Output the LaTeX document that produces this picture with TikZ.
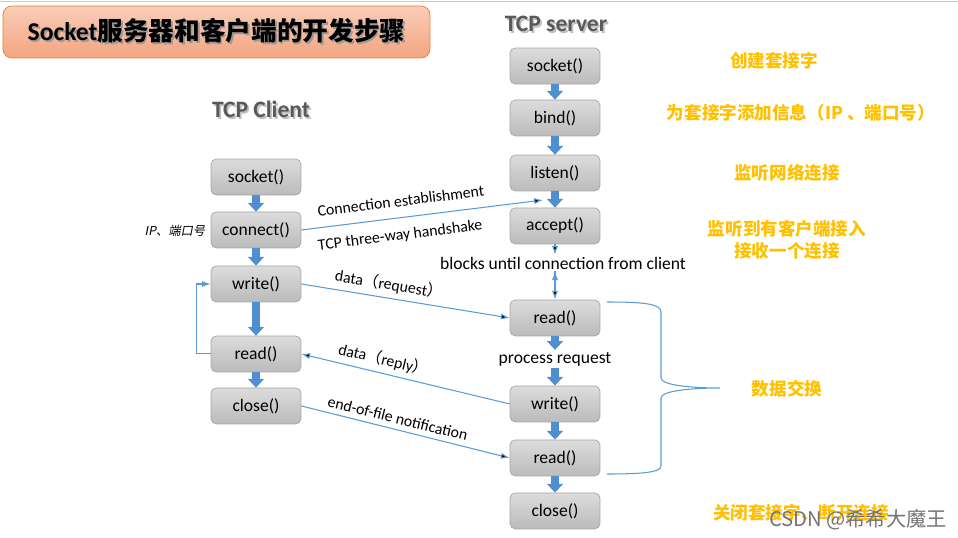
\documentclass[tikz,border=0pt]{standalone}
\usepackage{fontspec}
\setmainfont{Carlito}
\newfontfamily\cjk{Noto Sans CJK SC}
\newfontfamily\cjkslant[FakeSlant=0.2]{Noto Sans CJK SC}
\usetikzlibrary{arrows.meta, positioning}

\definecolor{boxline}{HTML}{A6A6A6}
\definecolor{boxtop}{HTML}{DCDCDC}
\definecolor{boxbot}{HTML}{BBBBBB}
\definecolor{linkblue}{HTML}{5B9BD5}
\definecolor{pipeblue}{HTML}{4F8FCF}
\definecolor{notegold}{HTML}{FFC000}
\definecolor{titleline}{HTML}{ED7D31}
\definecolor{titletop}{HTML}{F9CDB8}
\definecolor{titlebot}{HTML}{F4A47F}
\definecolor{headgray}{HTML}{595959}

\newcommand\shadetext[2]{\makebox[0pt][l]{\hspace{1pt}\raisebox{-1pt}{\textcolor{#1}{#2}}}#2}

\begin{document}
\begin{tikzpicture}[x=0.02cm, y=-0.02cm, on grid,
    call/.style={draw=boxline, rounded corners=3pt, top color=boxtop, bottom color=boxbot,
                 minimum width=1.8cm, minimum height=0.72cm, font=\fontsize{10}{12}\selectfont},
    pipe/.style={draw=pipeblue, line width=4pt, -{Triangle[length=5pt, width=9pt]}},
    link/.style={draw=linkblue, line width=0.6pt, -{Latex[length=5pt, width=3.5pt]}},
    lbl/.style={font=\fontsize{9}{10}\selectfont, sloped, above=2pt, inner sep=1pt},
    step text/.style={font=\fontsize{10}{12}\selectfont, inner sep=1pt, fill=white},
    note/.style={text=notegold, font=\fontsize{10}{12.5}\selectfont\cjk\bfseries, align=center},
    head/.style={text=headgray, font=\fontsize{13.4}{15}\selectfont\bfseries},
    titlebox/.style={draw=titleline, rounded corners=5pt, top color=titletop, bottom color=titlebot,
                 minimum width=8.54cm, minimum height=1.04cm, font=\fontsize{14.6}{17}\selectfont\bfseries}]
  \useasboundingbox (0,0) rectangle (958,538);
  \draw[black!20] (0,1) -- (958,1);

  \node[titlebox] (title) at (216.5,32) {\shadetext{black!40}{Socket{\cjk 服务器和客户端的开发步骤}}};
  \node[head] (server) at (556,25)  {\shadetext{black!25}{TCP server}};
  \node[head] (client) at (261,110) {\shadetext{black!25}{TCP Client}};

  \node[call] (ssocket) at (555,66)              {socket()};
  \node[call] (sbind)   [below=1.04cm of ssocket] {bind()};
  \node[call] (slisten) [below=1.10cm of sbind]   {listen()};
  \node[call] (saccept) [below=1.06cm of slisten] {accept()};
  \node[call] (sread)   [below=1.84cm of saccept] {read()};
  \node[call] (swrite)  [below=1.72cm of sread]   {write()};
  \node[call] (sread2)  [below=1.08cm of swrite]  {read()};
  \node[call] (sclose)  [below=1.06cm of sread2]  {close()};
  \node[step text] (proc) [below=0.82cm of sread] {process request};
  \node[step text] (wait) at (563,263)            {blocks until connection from client};

  \node[call] (csocket)  at (256,177)              {socket()};
  \node[call] (cconnect) [below=1.06cm of csocket]  {connect()};
  \node[call] (cwrite)   [below=1.08cm of cconnect] {write()};
  \node[call] (cread)    [below=1.40cm of cwrite]   {read()};
  \node[call] (cclose)   [below=1.04cm of cread]    {close()};
  \node[font=\fontsize{7}{8}\selectfont\cjkslant] (addr) at (175,231) {IP、端口号};

  \foreach \a/\b in {ssocket/sbind, sbind/slisten, slisten/saccept, sread/proc, proc/swrite,
                     swrite/sread2, sread2/sclose, csocket/cconnect, cconnect/cwrite,
                     cwrite/cread, cread/cclose}
    \draw[pipe] (\a.south) -- (\b.north);

  \coordinate (hs) at (543,200);
  \path[link]
    (cconnect.east) edge node[lbl, pos=.42, above=5pt] {Connection establishment}
                         node[lbl, pos=.40, below=5pt] {TCP three-way handshake} (hs)
    (cwrite.east)   edge node[lbl, pos=.41] {data{\cjk（}request{\cjk）}} (sread.west)
    (swrite.west)   edge node[lbl, pos=.62] {data{\cjk（}reply{\cjk）}} (cread.east)
    (cclose.east)   edge node[lbl, pos=.45] {end-of-file notification} (sread2.west)
    (saccept.south) edge (saccept.south |- wait.north)
    (wait.south -| sread.north) edge (sread.north);
  \draw[link] (cread.west) -- ++(-14,0) |- (cwrite.west);

  \draw[linkblue, line width=0.6pt] (607,302) .. controls (645,302) and (661,304) .. (661,312)
    -- (661,378) .. controls (661,385) and (690,388) .. (720,388)
    .. controls (690,388) and (661,391) .. (661,398)
    -- (661,466) .. controls (661,472) and (645,474) .. (607,474);

  \node[note] (n1) at (774,61)  {创建套接字};
  \node[note] (n2) at (801,113) {为套接字添加信息（IP 、端口号）};
  \node[note] (n3) at (787,173) {监听网络连接};
  \node[note] (n4) at (787,240) {监听到有客户端接入\\接收一个连接};
  \node[note] (n5) at (787,389) {数据交换};
  \node[note] (n6) at (801,513) {关闭套接字、断开连接};
  \node[text=black!55, font=\fontsize{11.5}{13}\selectfont\cjk] (mark) at (858,520) {CSDN @希希大魔王};
\end{tikzpicture}
\end{document}
